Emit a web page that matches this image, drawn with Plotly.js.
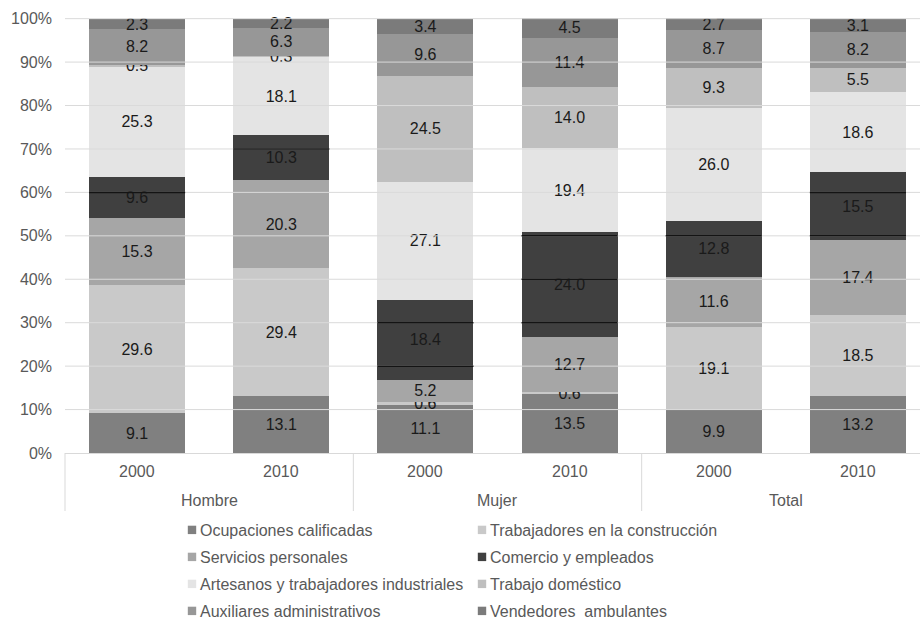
<!DOCTYPE html>
<html>
<head>
<meta charset="utf-8">
<script src="https://cdn.plot.ly/plotly-3.0.1.min.js"></script>
<style>
  html, body { margin: 0; padding: 0; background: #ffffff; overflow: hidden; }
  #chart { width: 935px; height: 620px; }
</style>
</head>
<body>
<div id="chart"></div>
<script>
// Two-level category axis: sex group and census year
const groups = ['Hombre', 'Hombre', 'Mujer', 'Mujer', 'Total', 'Total'];
const years = ['2000', '2010', '2000', '2010', '2000', '2010'];
const groupNames = ['Hombre', 'Mujer', 'Total'];

// Occupation shares (%) per bar, stacked bottom to top in this order
const seriesNames = [
  'Ocupaciones calificadas',
  'Trabajadores en la construcción',
  'Servicios personales',
  'Comercio y empleados',
  'Artesanos y trabajadores industriales',
  'Trabajo doméstico',
  'Auxiliares administrativos',
  'Vendedores  ambulantes'
];
const ocupacionesCalificadas    = [9.1, 13.1, 11.1, 13.5, 9.9, 13.2];
const trabajadoresConstruccion  = [29.6, 29.4, 0.6, 0.6, 19.1, 18.5];
const serviciosPersonales       = [15.3, 20.3, 5.2, 12.7, 11.6, 17.4];
const comercioEmpleados         = [9.6, 10.3, 18.4, 24.0, 12.8, 15.5];
const artesanosIndustriales     = [25.3, 18.1, 27.1, 19.4, 26.0, 18.6];
const trabajoDomestico          = [0.5, 0.3, 24.5, 14.0, 9.3, 5.5];
const auxiliaresAdministrativos = [8.2, 6.3, 9.6, 11.4, 8.7, 8.2];
const vendedoresAmbulantes      = [2.3, 2.2, 3.4, 4.5, 2.7, 3.1];

const yTicks = [0, 10, 20, 30, 40, 50, 60, 70, 80, 90, 100];

// Grey fills for each occupation
const fills = ['#808080', '#c9c9c9', '#a6a6a6', '#404040', '#e4e4e4', '#bfbfbf', '#979797', '#7b7b7b'];

const seriesValues = [
  ocupacionesCalificadas, trabajadoresConstruccion, serviciosPersonales, comercioEmpleados,
  artesanosIndustriales, trabajoDomestico, auxiliaresAdministrativos, vendedoresAmbulantes
];

const FONT = '"Liberation Sans", Arial, sans-serif';
const GREY_TEXT = '#595959';
const BAR_WIDTH = 2 / 3;
const W = 935, H = 620;
const PLOT_TOP = 18, PLOT_BOTTOM = 453;
const PLOT_H = PLOT_BOTTOM - PLOT_TOP;

// legend: two entries per row, one legend object per row
const legendIds = ['legend', 'legend2', 'legend3', 'legend4'];
const legendRowsY = [530, 557, 584, 611];

const traces = seriesValues.map((vals, k) => ({
  type: 'bar',
  name: seriesNames[k],
  legend: legendIds[Math.floor(k / 2)],
  x: [groups, years],
  y: vals,
  width: BAR_WIDTH,
  marker: { color: fills[k], line: { width: 0 } },
  text: vals.map(v => v.toFixed(1)),
  texttemplate: '%{text}',
  textposition: 'inside',
  insidetextanchor: 'middle',
  textangle: 0,
  constraintext: 'none',
  cliponaxis: false,
  textfont: { family: FONT, size: 16, color: '#1a1a1a' },
  hoverinfo: 'name+y'
}));

// Horizontal gridlines drawn over the bars
const nBars = years.length;
const shapes = yTicks.filter(v => v > 0).map(v => ({
  type: 'line', layer: 'above', xref: 'paper', yref: 'y',
  x0: 0, x1: 1, y0: v, y1: v,
  line: { color: '#dadada', width: 1 }
}));

// Where a gridline crosses the darkest segment it shows as a dark rule
for (let i = 0; i < nBars; i++) {
  const base = ocupacionesCalificadas[i] + trabajadoresConstruccion[i] + serviciosPersonales[i];
  const top = base + comercioEmpleados[i];
  yTicks.forEach(v => {
    if (v > base && v < top) {
      shapes.push({
        type: 'line', layer: 'above', xref: 'paper', yref: 'y',
        x0: (i + 0.5 - BAR_WIDTH / 2) / nBars, x1: (i + 0.5 + BAR_WIDTH / 2) / nBars,
        y0: v, y1: v,
        line: { color: '#141414', width: 1.5 }
      });
    }
  });
}

// Group dividers under the category axis
for (let g = 0; g <= groupNames.length; g++) {
  shapes.push({
    type: 'line', layer: 'above', xref: 'paper', yref: 'paper',
    x0: g / groupNames.length, x1: g / groupNames.length,
    y0: 0, y1: -58 / PLOT_H,
    line: { color: '#d9d9d9', width: 1 }
  });
}

// Category labels: years on the first row, groups below
const annotations = [];
years.forEach((yr, i) => {
  annotations.push({
    xref: 'paper', yref: 'paper', x: (i + 0.5) / nBars, y: 0,
    xanchor: 'center', yanchor: 'middle', yshift: -18,
    text: yr, showarrow: false,
    font: { family: FONT, size: 16, color: GREY_TEXT }
  });
});
groupNames.forEach((g, j) => {
  annotations.push({
    xref: 'paper', yref: 'paper', x: (j + 0.5) / groupNames.length, y: 0,
    xanchor: 'center', yanchor: 'middle', yshift: -47,
    text: g, showarrow: false,
    font: { family: FONT, size: 16, color: GREY_TEXT }
  });
});

const layout = {
  width: W,
  height: H,
  margin: { l: 65, r: W - 930, t: PLOT_TOP, b: H - PLOT_BOTTOM },
  paper_bgcolor: '#ffffff',
  plot_bgcolor: '#ffffff',
  barmode: 'stack',
  font: { family: FONT, size: 16, color: GREY_TEXT },
  showlegend: true,
  xaxis: {
    type: 'multicategory',
    showgrid: false,
    zeroline: false,
    showline: true,
    linecolor: '#d9d9d9',
    linewidth: 1,
    ticks: '',
    showticklabels: false,
    showdividers: false,
    fixedrange: true
  },
  yaxis: {
    range: [0, 100.15],
    tickvals: yTicks,
    ticktext: yTicks.map(v => v + '%'),
    showgrid: false,
    zeroline: false,
    showline: false,
    ticks: '',
    ticklabelstandoff: 12,
    tickfont: { family: FONT, size: 16, color: GREY_TEXT },
    fixedrange: true
  },
  shapes: shapes,
  annotations: annotations
};

legendIds.forEach((id, r) => {
  layout[id] = {
    orientation: 'h',
    xref: 'container',
    yref: 'container',
    x: 160 / W,
    xanchor: 'left',
    y: 1 - legendRowsY[r] / H,
    yanchor: 'middle',
    traceorder: 'normal',
    entrywidth: 245,
    entrywidthmode: 'pixels',
    font: { family: FONT, size: 16, color: GREY_TEXT },
    bgcolor: 'rgba(0,0,0,0)'
  };
});

Plotly.newPlot('chart', traces, layout, { displayModeBar: false, staticPlot: true }).then(() => {
  // smaller square swatches sitting closer to their labels
  document.querySelectorAll('#chart .legendpoints path').forEach(p => {
    p.setAttribute('transform', 'translate(32,0) scale(0.7)');
  });
});
</script>
</body>
</html>
